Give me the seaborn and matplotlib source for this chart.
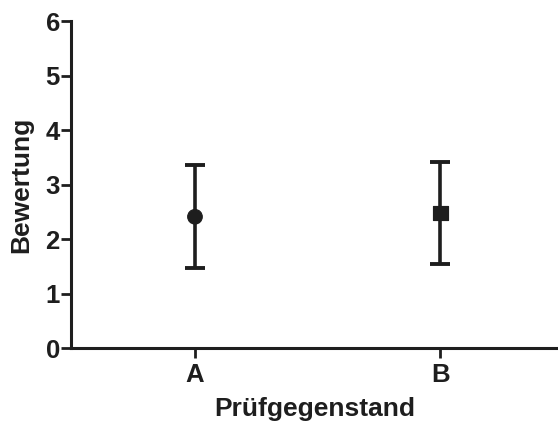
import pandas as pd
import matplotlib.pyplot as plt
import seaborn as sns

# Data
categories = ['A', 'B']
means = [2.41, 2.48]
err_low = [0.94, 0.94]
err_high = [0.95, 0.94]
markers = ['o', 's']

sns.set_theme(style='ticks')
plt.rcParams['font.family'] = ['Liberation Sans', 'DejaVu Sans']
plt.rcParams['font.weight'] = 'bold'

df = pd.DataFrame({'Prüfgegenstand': categories, 'Bewertung': means})

fig = plt.figure(figsize=(5.58, 4.21), dpi=100)
ax = fig.add_axes([0.127, 0.173, 0.873, 0.777])

ax.errorbar(categories, means, yerr=[err_low, err_high], fmt='none',
            ecolor='#1e1e1e', elinewidth=2.6, capsize=7, capthick=2.8, zorder=2)
sns.scatterplot(data=df, x='Prüfgegenstand', y='Bewertung', style='Prüfgegenstand',
                markers=dict(zip(categories, markers)), color='#1e1e1e',
                s=110, edgecolor='#1e1e1e', legend=False, ax=ax, zorder=3)

ax.set_ylim(0, 6)
ax.set_xlim(-0.506, 1.48)
ax.set_yticks(range(0, 7))
ax.set_xlabel('Prüfgegenstand', fontsize=19, fontweight='bold', labelpad=7,
              color='#1e1e1e')
ax.set_ylabel('Bewertung', fontsize=19, fontweight='bold', labelpad=9,
              color='#1e1e1e')
ax.tick_params(axis='both', length=7, width=2, color='#1e1e1e',
               labelsize=18.5, labelcolor='#1e1e1e')
ax.tick_params(axis='y', pad=1)
ax.tick_params(axis='x', pad=4)
for lab in ax.get_xticklabels() + ax.get_yticklabels():
    lab.set_fontweight('bold')

sns.despine(ax=ax)
for side in ['left', 'bottom']:
    ax.spines[side].set_linewidth(2.2)
    ax.spines[side].set_color('#1e1e1e')

fig.savefig('out.png', dpi=100)
plt.close(fig)
